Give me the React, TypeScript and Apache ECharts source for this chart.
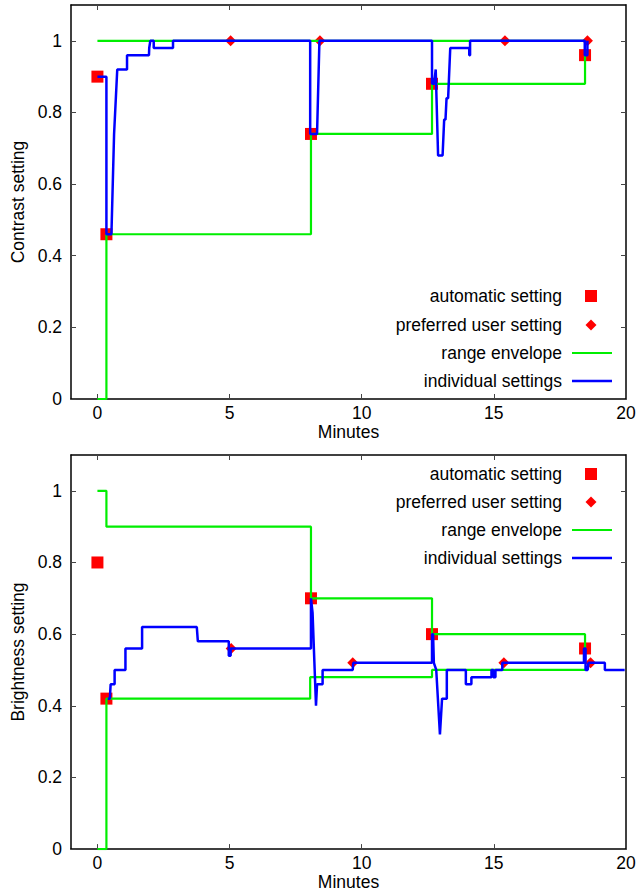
import React, { useEffect, useRef } from "react";
import * as echarts from "echarts";

// ---- axes ----
const xTicks = [0, 5, 10, 15, 20];
const yTicks = [0, 0.2, 0.4, 0.6, 0.8, 1];

// ---- contrast (top panel) ----
const contrastAuto = [[0, 0.9], [0.34, 0.46], [8.08, 0.74], [12.66, 0.88], [18.45, 0.96]];
const contrastPreferred = [[5.04, 1], [8.42, 1], [15.42, 1], [18.54, 1]];
const contrastEnvUpper = [[0, 1], [18.45, 1]];
const contrastEnvLower = [[0, 0], [0.34, 0.46], [8.08, 0.74], [12.66, 0.88], [18.45, 0.96]];
const contrastIndividual = [
  [0, 0.9], [0.34, 0.9], [0.34, 0.46], [0.53, 0.46], [0.63, 0.74], [0.75, 0.92],
  [1.12, 0.92], [1.12, 0.96], [1.95, 0.96], [1.96, 0.98], [2.0, 1.0], [2.13, 1.0],
  [2.13, 0.98], [2.86, 0.98], [2.86, 1.0], [8.05, 1.0], [8.05, 0.74], [8.31, 0.74],
  [8.4, 1.0], [12.66, 1.0], [12.66, 0.88], [12.74, 0.88], [12.8, 0.92], [12.89, 0.68],
  [13.06, 0.68], [13.12, 0.78], [13.17, 0.78], [13.21, 0.84], [13.27, 0.84], [13.35, 0.98],
  [14.07, 0.98], [14.07, 0.96], [14.1, 0.96], [14.1, 1.0], [18.44, 1.0], [18.44, 0.96],
  [18.54, 0.96], [18.54, 1.0]
];

// ---- brightness (bottom panel) ----
const brightAuto = [[0, 0.8], [0.34, 0.42], [8.08, 0.7], [12.66, 0.6], [18.45, 0.56]];
const brightPreferred = [[5.06, 0.56], [9.66, 0.52], [15.38, 0.52], [18.66, 0.52]];
const brightEnvUpper = [[0, 1], [0.34, 0.9], [8.08, 0.7], [12.66, 0.6], [18.45, 0.56]];
const brightEnvLower = [[0, 0], [0.34, 0.42], [8.05, 0.48], [12.66, 0.5], [18.45, 0.5]];
const brightIndividual = [
  [0.39, 0.42], [0.47, 0.42], [0.5, 0.46], [0.65, 0.46], [0.65, 0.5], [1.06, 0.5],
  [1.06, 0.56], [1.69, 0.56], [1.69, 0.62], [3.76, 0.62], [3.8, 0.58], [4.97, 0.58],
  [4.97, 0.54], [5.04, 0.54], [5.04, 0.56], [8.08, 0.56], [8.08, 0.7], [8.14, 0.66],
  [8.27, 0.4], [8.31, 0.46], [8.52, 0.46], [8.52, 0.5], [9.66, 0.5], [9.68, 0.52],
  [12.66, 0.52], [12.66, 0.6], [12.7, 0.6], [12.73, 0.52], [12.82, 0.5], [12.96, 0.32],
  [13.04, 0.42], [13.22, 0.42], [13.22, 0.5], [13.94, 0.5], [13.94, 0.46], [14.15, 0.46],
  [14.15, 0.48], [14.91, 0.48], [14.91, 0.5], [14.98, 0.5], [14.98, 0.48], [15.06, 0.48],
  [15.06, 0.5], [15.32, 0.5], [15.32, 0.52], [18.41, 0.52], [18.41, 0.56], [18.47, 0.56],
  [18.47, 0.5], [18.55, 0.5], [18.58, 0.52], [19.2, 0.52], [19.2, 0.5], [19.95, 0.5]
];

const legendLabels = ["automatic setting", "preferred user setting", "range envelope", "individual settings"];

const FONT = "'Liberation Sans', Arial, Helvetica, sans-serif";
const FS = 17.5;
const RED = "#ff0000";
const GREEN = "#00ee00";
const BLUE = "#0000ff";

function axesFor(g: number, yName: string) {
  const lineStyle = { color: "#000", width: 1.5 };
  const tick = { show: true, inside: true, length: 5, lineStyle: { color: "#444", width: 1 } };
  const xs = [
    {
      gridIndex: g, type: "value", min: -1, max: 20, position: "bottom",
      axisLine: { show: true, onZero: false, lineStyle },
      axisTick: { ...tick, customValues: xTicks },
      axisLabel: { customValues: xTicks, margin: 5, fontSize: FS, color: "#000", fontFamily: FONT },
      splitLine: { show: false },
      name: "Minutes", nameLocation: "middle", nameGap: 23,
      nameTextStyle: { fontSize: FS, color: "#000", fontFamily: FONT },
    },
    {
      gridIndex: g, type: "value", min: -1, max: 20, position: "top",
      axisLine: { show: true, onZero: false, lineStyle },
      axisTick: { ...tick, customValues: xTicks },
      axisLabel: { show: false },
      splitLine: { show: false },
    },
  ];
  const ys = [
    {
      gridIndex: g, type: "value", min: 0, max: 1.1, position: "left",
      axisLine: { show: true, onZero: false, lineStyle },
      axisTick: { ...tick, customValues: yTicks },
      axisLabel: { customValues: yTicks, margin: 9, fontSize: FS, color: "#000", fontFamily: FONT },
      splitLine: { show: false },
      name: yName, nameLocation: "middle", nameGap: 44,
      nameTextStyle: { fontSize: FS, color: "#000", fontFamily: FONT },
    },
    {
      gridIndex: g, type: "value", min: 0, max: 1.1, position: "right",
      axisLine: { show: true, onZero: false, lineStyle },
      axisTick: { ...tick, customValues: yTicks },
      axisLabel: { show: false },
      splitLine: { show: false },
    },
  ];
  return { xs, ys };
}

function seriesFor(axisIndex: number, auto: number[][], pref: number[][], up: number[][], low: number[][], ind: number[][]) {
  const ax = { xAxisIndex: axisIndex, yAxisIndex: axisIndex };
  return [
    { ...ax, type: "scatter", name: legendLabels[0], data: auto, symbol: "rect", symbolSize: 12, itemStyle: { color: RED, opacity: 1 }, silent: true, z: 2 },
    { ...ax, type: "scatter", name: legendLabels[1], data: pref, symbol: "diamond", symbolSize: 11, itemStyle: { color: RED, opacity: 1 }, silent: true, z: 2 },
    { ...ax, type: "line", name: legendLabels[2], data: up, step: "end", showSymbol: false, symbol: "none", lineStyle: { color: GREEN, width: 2.2 }, silent: true, z: 3 },
    { ...ax, type: "line", name: legendLabels[2], data: low, step: "end", showSymbol: false, symbol: "none", lineStyle: { color: GREEN, width: 2.2 }, silent: true, z: 3 },
    { ...ax, type: "line", name: legendLabels[3], data: ind, showSymbol: false, symbol: "none", lineStyle: { color: BLUE, width: 2.5 }, silent: true, z: 4 },
  ];
}

function legendGraphic(rows: number[]) {
  const textX = 562;
  const symX = 591;
  const els: any[] = [];
  legendLabels.forEach((label, i) => {
    els.push({
      type: "text", x: textX, y: rows[i], silent: true,
      style: { text: label, fill: "#000", font: `${FS}px ${FONT}`, textAlign: "right", textVerticalAlign: "middle" },
    });
  });
  els.push({ type: "rect", silent: true, shape: { x: symX - 6, y: rows[0] - 6, width: 12, height: 12 }, style: { fill: RED } });
  els.push({
    type: "polygon", silent: true,
    shape: { points: [[symX, rows[1] - 5.5], [symX + 5.5, rows[1]], [symX, rows[1] + 5.5], [symX - 5.5, rows[1]]] },
    style: { fill: RED },
  });
  els.push({ type: "line", silent: true, shape: { x1: 572, y1: rows[2], x2: 612, y2: rows[2] }, style: { stroke: GREEN, lineWidth: 2.2 } });
  els.push({ type: "line", silent: true, shape: { x1: 572, y1: rows[3], x2: 612, y2: rows[3] }, style: { stroke: BLUE, lineWidth: 2.5 } });
  return els;
}

export default function App() {
  const ref = useRef<HTMLDivElement>(null);
  useEffect(() => {
    if (!ref.current) return;
    const chart = echarts.init(ref.current, undefined, { renderer: "svg" });
    const a0 = axesFor(0, "Contrast setting");
    const a1 = axesFor(1, "Brightness setting");
    chart.setOption({
      animation: false,
      backgroundColor: "#fff",
      textStyle: { fontFamily: FONT },
      grid: [
        { left: 71, top: 5, width: 555, height: 394 },
        { left: 71, top: 455, width: 555, height: 395 },
      ],
      xAxis: [...a0.xs, ...a1.xs],
      yAxis: [...a0.ys, ...a1.ys],
      series: [
        ...seriesFor(0, contrastAuto, contrastPreferred, contrastEnvUpper, contrastEnvLower, contrastIndividual),
        ...seriesFor(2, brightAuto, brightPreferred, brightEnvUpper, brightEnvLower, brightIndividual),
      ],
      graphic: [
        ...legendGraphic([296, 325, 353, 381]),
        ...legendGraphic([474, 502, 530, 558]),
      ],
    });
    return () => chart.dispose();
  }, []);
  return <div ref={ref} style={{ position: "absolute", left: 0, top: 0, width: 639, height: 892 }} />;
}
